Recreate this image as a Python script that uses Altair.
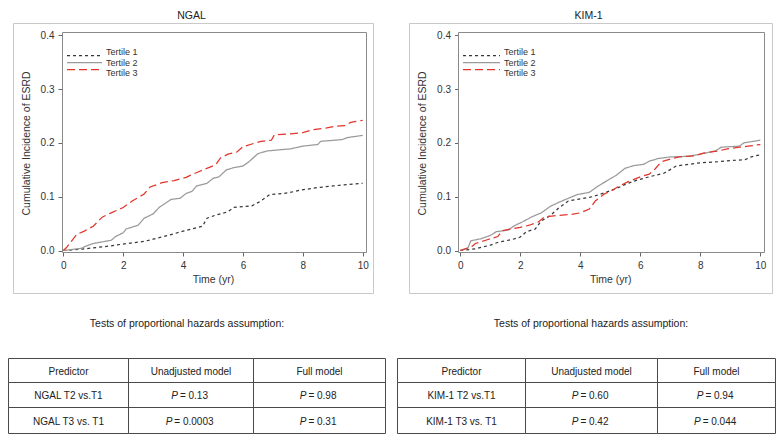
import altair as alt
import pandas as pd

# ---------------- data ----------------
SERIES = ["Tertile 1", "Tertile 2", "Tertile 3"]
PANEL_TITLES = ["NGAL", "KIM-1"]
X_TICKS = [0, 2, 4, 6, 8, 10]
Y_TICKS = [0.0, 0.1, 0.2, 0.3, 0.4]

NGAL_T1_T = [0, 0.7, 1.5, 2.0, 2.7, 3.0, 3.5, 4.0, 4.5, 4.65, 4.8, 5.1, 5.5, 5.7, 6.3, 6.6, 6.9, 7.5, 7.9, 8.5, 9.0, 10]
NGAL_T1_V = [0, .003, .008, .012, .017, .021, .028, .036, .043, .045, .060, .066, .072, .080, .083, .092, .104, .107, .112, .117, .120, .125]
NGAL_T2_T = [0, 0.6, 0.75, 1.0, 1.3, 1.6, 1.75, 2.0, 2.1, 2.5, 2.7, 3.0, 3.2, 3.6, 3.9, 4.1, 4.3, 4.45, 4.8, 5.0, 5.2, 5.45, 5.7, 6.0, 6.2, 6.5, 6.8, 7.2, 7.6, 8.0, 8.5, 8.6, 9.3, 9.5, 10]
NGAL_T2_V = [0, .004, .008, .013, .016, .019, .026, .033, .040, .047, .060, .068, .080, .095, .097, .106, .110, .120, .125, .134, .137, .150, .154, .157, .165, .180, .185, .187, .189, .194, .197, .203, .206, .210, .214]
NGAL_T3_T = [0, 0.1, 0.45, 0.7, 1.0, 1.3, 1.6, 2.0, 2.3, 2.7, 2.9, 3.3, 3.7, 4.1, 4.5, 4.9, 5.1, 5.25, 5.5, 5.8, 6.0, 6.3, 6.6, 6.95, 7.05, 7.6, 8.0, 8.3, 8.8, 9.1, 9.4, 9.6, 10]
NGAL_T3_V = [0, .005, .030, .036, .045, .062, .070, .080, .092, .105, .118, .126, .130, .136, .146, .155, .160, .172, .179, .183, .193, .198, .203, .205, .215, .217, .219, .224, .228, .231, .232, .238, .242]

KIM_T1_T = [0, 0.5, 1.0, 1.3, 1.7, 2.0, 2.2, 2.5, 2.7, 3.0, 3.3, 3.6, 4.0, 4.4, 4.8, 5.2, 5.5, 5.9, 6.3, 6.8, 7.2, 7.6, 8.0, 8.6, 9.0, 9.5, 9.7, 10]
KIM_T1_V = [0, .003, .010, .016, .020, .025, .035, .040, .055, .065, .080, .092, .096, .100, .107, .115, .123, .131, .137, .144, .157, .160, .163, .165, .167, .169, .174, .178]
KIM_T2_T = [0, 0.25, 0.35, 0.7, 1.0, 1.2, 1.6, 1.8, 2.1, 2.4, 2.7, 3.0, 3.3, 3.6, 3.9, 4.3, 4.6, 4.9, 5.2, 5.5, 5.8, 6.1, 6.3, 6.6, 7.0, 7.6, 7.9, 8.5, 8.7, 9.3, 9.45, 10]
KIM_T2_V = [0, .004, .018, .022, .028, .035, .038, .046, .054, .063, .070, .082, .090, .097, .104, .108, .120, .130, .140, .153, .158, .160, .166, .171, .174, .175, .178, .185, .192, .194, .200, .205]
KIM_T3_T = [0, 0.4, 0.5, 0.9, 1.25, 1.4, 1.7, 2.0, 2.3, 2.6, 2.8, 3.2, 3.7, 4.0, 4.3, 4.5, 4.8, 5.1, 5.3, 5.6, 6.0, 6.3, 6.5, 6.7, 7.0, 7.3, 7.8, 8.1, 8.6, 8.9, 9.3, 9.6, 10]
KIM_T3_V = [0, .008, .013, .020, .026, .037, .040, .043, .047, .053, .062, .065, .067, .070, .077, .092, .105, .113, .120, .128, .137, .142, .152, .165, .170, .174, .176, .181, .185, .189, .192, .194, .197]

TABLE_TITLE = "Tests of proportional hazards assumption:"
TABLE_HEADER = ["Predictor", "Unadjusted model", "Full model"]
NGAL_PRED = ["NGAL T2 vs.T1", "NGAL T3 vs. T1"]
NGAL_UNADJ = ["0.13", "0.0003"]
NGAL_FULL = ["0.98", "0.31"]
KIM_PRED = ["KIM-1 T2 vs.T1", "KIM-1 T3 vs. T1"]
KIM_UNADJ = ["0.60", "0.42"]
KIM_FULL = ["0.94", "0.044"]

# ---------------- styling / layout ----------------
FONT = "Liberation Sans"
COLORS = ["#383838", "#9a9a9a", "#e0362c"]
DASHES = [[3, 3], [1, 0], [8, 4]]
W, H = 768, 426
M = 8  # page margin
NBSP = "\u00a0"
P_GAP = 2.0  # extra pixels between italic P and the rest


def p(a):
    """absolute page pixel -> canvas pixel"""
    return a - M


Y_RANGE = [p(250.5), p(35.3)]
L_X_RANGE = [p(63.3), p(362.7)]
R_X_RANGE = [p(460.3), p(760.3)]


def series_df(ts, vs):
    rows = []
    for name, t, v in zip(SERIES, ts, vs):
        for a, b in zip(t, v):
            rows.append({"t": a, "v": b, "series": name})
    return pd.DataFrame(rows)


one = alt.Data(values=[{"k": 1}])

color_enc = alt.Color("series:N", scale=alt.Scale(domain=SERIES, range=COLORS), legend=None)
dash_enc = alt.StrokeDash("series:N", scale=alt.Scale(domain=SERIES, range=DASHES), legend=None)


def lines_layer(df, xr, axis_x):
    return alt.Chart(df).mark_line(strokeWidth=1.25).encode(
        x=alt.X("t:Q", scale=alt.Scale(domain=[0, 10], range=xr, nice=False, zero=False),
                axis=alt.Axis(orient="bottom", offset=p(252) - H, values=X_TICKS, format="d",
                              title="Time (yr)", labelFlush=False, titlePadding=4, labelPadding=4)),
        y=alt.Y("v:Q", scale=alt.Scale(domain=[0, 0.4], range=Y_RANGE, nice=False, zero=False),
                axis=alt.Axis(orient="left", offset=-p(axis_x), values=Y_TICKS, format=".1f",
                              title="Cumulative Incidence of ESRD", labelFlush=False,
                              titlePadding=9, labelPadding=4)),
        color=color_enc,
        strokeDash=dash_enc,
    )


def box(x0, x1, y0, y1, stroke):
    return alt.Chart(one).mark_rect(fillOpacity=0, stroke=stroke, strokeWidth=1).encode(
        x=alt.value(x0), x2=alt.value(x1), y=alt.value(y0), y2=alt.value(y1))


def legend_layers(x0, x1, xt, y0, y1):
    ld = pd.DataFrame({"series": SERIES})
    ysc = alt.Y("series:N", scale=alt.Scale(domain=SERIES, range=[y0, y1], padding=0), axis=None)
    rules = alt.Chart(ld).mark_rule(strokeWidth=1.25).encode(
        x=alt.value(x0), x2=alt.value(x1), y=ysc, color=color_enc, strokeDash=dash_enc)
    texts = alt.Chart(ld).mark_text(align="left", baseline="middle", font=FONT, fontSize=9,
                                    color="#333").encode(x=alt.value(xt), y=ysc, text="series:N")
    return [rules, texts]


def text_at(txt, x, y, size, baseline="middle"):
    return alt.Chart(one).mark_text(text=txt, font=FONT, fontSize=size, color="#222",
                                    align="center", baseline=baseline).encode(
        x=alt.value(x), y=alt.value(y))


CW = {"0": .556, "1": .556, "2": .556, "3": .556, "4": .556, "5": .556, "6": .556,
      "7": .556, "8": .556, "9": .556, ".": .278, " ": .278, NBSP: .278, "=": .584, "P": .667}


def tw(s, size=10):
    return sum(CW.get(ch, .556) for ch in s) * size


ROW_EDGES = [p(358) + .5, p(382) + .5, p(407) + .5, p(433) + .5]


def table_layers(edges_abs, preds, unadj, full):
    edges = [p(e) + .5 for e in edges_abs]
    xs = alt.Scale(domain=[0, 1, 2, 3], range=edges, nice=False, zero=False)
    ys = alt.Scale(domain=[0, 1, 2, 3], range=ROW_EDGES, nice=False, zero=False)
    cells = pd.DataFrame([{"c0": c, "c1": c + 1, "r0": r, "r1": r + 1}
                          for c in range(3) for r in range(3)])
    rects = alt.Chart(cells).mark_rect(fillOpacity=0, stroke="#4a4a4a", strokeWidth=1).encode(
        x=alt.X("c0:Q", scale=xs, axis=None), x2="c1:Q",
        y=alt.Y("r0:Q", scale=ys, axis=None), y2="r1:Q")
    plain = [{"x": c + .5, "y": .55, "s": h} for c, h in enumerate(TABLE_HEADER)]
    plain += [{"x": .5, "y": r + 1.55, "s": s} for r, s in enumerate(preds)]
    ptxt, rest = [], []
    for ci, vals in ((1, unadj), (2, full)):
        cw = edges[ci + 1] - edges[ci]
        for r, v in enumerate(vals):
            rs = NBSP + "=" + NBSP + v
            total = tw("P") + P_GAP + tw(rs)
            left = ci + .5 - (total / 2) / cw
            ptxt.append({"x": left + tw("P") / cw, "y": r + 1.55, "s": "P"})
            rest.append({"x": left + (tw("P") + P_GAP) / cw, "y": r + 1.55, "s": rs})
    out = [rects]
    for recs, align, style in ((plain, "center", "normal"), (ptxt, "right", "italic"),
                               (rest, "left", "normal")):
        out.append(alt.Chart(pd.DataFrame(recs)).mark_text(
            align=align, baseline="middle", font=FONT, fontSize=10, fontStyle=style,
            color="#222").encode(
            x=alt.X("x:Q", scale=xs, axis=None), y=alt.Y("y:Q", scale=ys, axis=None),
            text="s:N"))
    return out


layers = [
    box(p(13) + .5, p(373) + .5, p(23) + .5, p(293) + .5, "#c9c9c9"),
    box(p(409) + .5, p(772) + .5, p(23) + .5, p(293) + .5, "#c9c9c9"),
    box(p(62) + .5, p(366) + .5, p(32) + .5, p(252) + .5, "#8a8a8a"),
    box(p(458) + .5, p(764) + .5, p(32) + .5, p(252) + .5, "#8a8a8a"),
    lines_layer(series_df([NGAL_T1_T, NGAL_T2_T, NGAL_T3_T], [NGAL_T1_V, NGAL_T2_V, NGAL_T3_V]),
                L_X_RANGE, 62),
    lines_layer(series_df([KIM_T1_T, KIM_T2_T, KIM_T3_T], [KIM_T1_V, KIM_T2_V, KIM_T3_V]),
                R_X_RANGE, 458.5),
]
layers += legend_layers(p(67), p(102), p(106), p(52), p(73))
layers += legend_layers(p(463), p(500), p(504), p(52), p(73))
layers += [
    text_at(PANEL_TITLES[0], p(191.5), 8, 10.5),
    text_at(PANEL_TITLES[1], p(588.5), 8, 10.5),
    text_at(TABLE_TITLE, p(187), p(324), 10.5),
    text_at(TABLE_TITLE, p(591), p(324), 10.5),
]
layers += table_layers([8, 128, 253, 385], NGAL_PRED, NGAL_UNADJ, NGAL_FULL)
layers += table_layers([397, 525, 657, 775], KIM_PRED, KIM_UNADJ, KIM_FULL)

chart = alt.layer(*layers).resolve_scale(
    x="independent", y="independent", color="independent", strokeDash="independent"
).resolve_axis(x="independent", y="independent").properties(
    width=W, height=H, autosize=alt.AutoSizeParams(type="none"), padding=0
).configure_view(stroke=None).configure_axis(
    labelFont=FONT, labelFontSize=10, labelColor="#333", titleFont=FONT, titleFontSize=10.5,
    titleColor="#333", titleFontWeight="normal", tickColor="#666", tickSize=4, domain=False,
    grid=False
)

chart.save("out.html", embed_options={"renderer": "svg", "actions": False})
